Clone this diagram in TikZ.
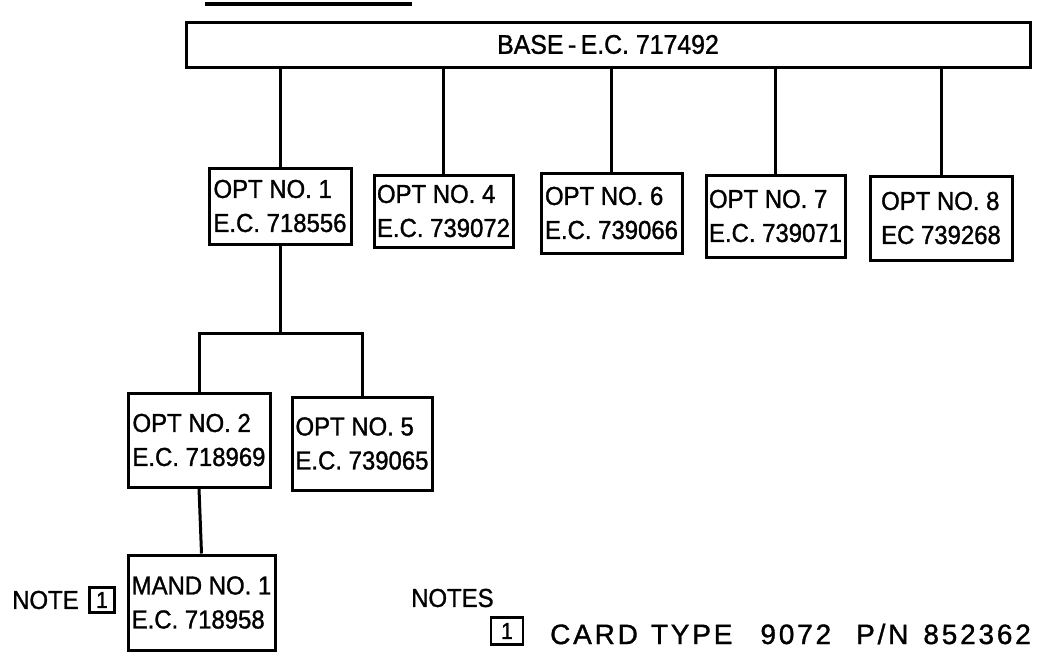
\documentclass[tikz,border=0pt]{standalone}
\usepackage{fontspec}
\setmainfont{Liberation Sans}
\newfontfamily\lett[FakeStretch=0.92,FakeBold=1.2]{Liberation Sans}
\newfontfamily\lettwide[LetterSpace=10,FakeBold=1.2]{Liberation Sans}
\begin{document}
\begin{tikzpicture}[x=1pt,y=-1pt,
  box/.style={draw,line width=3pt,rectangle,inner sep=0pt},
  optbox/.style={box,align=left,font=\lett\fontsize{26}{34}\selectfont},
  link/.style={line width=3pt},
  lbl/.style={inner sep=0pt,font=\lett\fontsize{26}{28}\selectfont},
  tinybox/.style={draw,line width=2.4pt,inner sep=0pt,font=\lett\fontsize{23}{24}\selectfont}]
\useasboundingbox (0,0) rectangle (1046,656);
% top rule
\coordinate (ruleL) at (205,4);
\coordinate (ruleR) at (412,4);
\draw[line width=3.5pt] (ruleL) -- (ruleR);
% base
\node[box,minimum width=844pt,minimum height=45pt,font=\lett\fontsize{27}{28}\selectfont] (base) at (608,44.5) {BASE\,-\,E.C. 717492};
% options row
\node[optbox,minimum width=142pt,minimum height=76pt] (o1) at (280,206) {OPT NO. 1\\E.C. 718556};
\node[optbox,minimum width=139pt,minimum height=72pt] (o4) at (443.5,211) {OPT NO. 4\\E.C. 739072};
\node[optbox,minimum width=141pt,minimum height=80pt] (o6) at (611.5,213) {OPT NO. 6\\E.C. 739066};
\node[optbox,minimum width=139pt,minimum height=82pt] (o7) at (775.5,216) {OPT NO. 7\\E.C. 739071};
\node[optbox,minimum width=142pt,minimum height=84pt] (o8) at (941,218) {OPT NO. 8\\EC 739268};
% second level
\node[optbox,minimum width=142pt,minimum height=94pt] (o2) at (199,440) {OPT NO. 2\\E.C. 718969};
\node[optbox,minimum width=140pt,minimum height=93pt] (o5) at (362,443.5) {OPT NO. 5\\E.C. 739065};
% third level
\node[optbox,minimum width=147pt,minimum height=95pt] (mand) at (201.5,602.5) {MAND NO. 1\\E.C. 718958};
% connectors from base
\foreach \n in {o1,o4,o6,o7,o8}
  \draw[link] (\n.north) -- (\n.north |- base.south);
% OPT1 branch
\coordinate (j) at (280,333);
\draw[link] (o1.south) -- (j);
\draw[link] (o2.north) -- (o2.north |- j) -- (o5.north |- j) -- (o5.north);
\draw[link] (o2.south) -- (mand.north);
% note at left
\node[lbl,anchor=west] (note) at (12,600) {NOTE};
\node[tinybox,minimum width=25pt,minimum height=25pt] (n1) at (102,600) {1};
% notes list
\node[lbl,anchor=west] (notes) at (411,598) {NOTES};
\node[tinybox,minimum width=32pt,minimum height=27pt] (n2) at (507,631) {1};
\node[inner sep=0pt,anchor=west,font=\lettwide\fontsize{28}{30}\selectfont] (card) at (550,634) {CARD\hspace{13pt}TYPE\hspace{28pt}9072\hspace{25pt}P/N\hspace{15pt}852362};
\end{tikzpicture}
\end{document}
